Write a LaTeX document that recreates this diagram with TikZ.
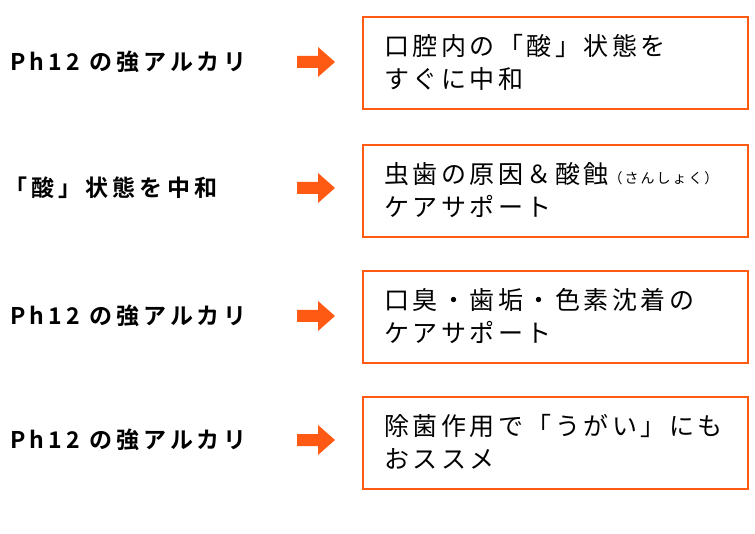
\documentclass[tikz,border=0pt]{standalone}
\usepackage{fontspec}
\setmainfont{Noto Sans CJK JP}
\newfontfamily\boldjp[LetterSpace=18]{Noto Sans CJK JP Bold}
\newfontfamily\wideJp[LetterSpace=14]{Noto Sans CJK JP}
\usepackage{tikz}
\usetikzlibrary{positioning}
\definecolor{accent}{HTML}{FF5A14}
\tikzset{
  lefttext/.style={anchor=west,inner sep=0pt,font=\boldjp\fontsize{23}{24}\selectfont},
  boxframe/.style={draw=accent,line width=1.6pt,fill=white},
  boxtext/.style={anchor=north west,inner sep=0pt,align=left,
    font=\wideJp\fontsize{25}{33}\selectfont}
}
\newcommand{\bigarrow}[1]{%
  \fill[accent] (297,#1-6) -- (318,#1-6) -- (318,#1-15) -- (335,#1)
    -- (318,#1+15) -- (318,#1+6) -- (297,#1+6) -- cycle;}

\begin{document}
\begin{tikzpicture}[x=1pt,y=-1pt]
  \useasboundingbox (0,0) rectangle (755,534);

  % Left labels
  \node[lefttext] (l1) at (10,62) {Ph12 の強アルカリ};
  \node[lefttext] (l2) at (4,188) {「酸」状態を中和};
  \node[lefttext] (l3) at (10,316) {Ph12 の強アルカリ};
  \node[lefttext] (l4) at (10,440) {Ph12 の強アルカリ};

  % Arrows
  \bigarrow{62}
  \bigarrow{188}
  \bigarrow{316}
  \bigarrow{440}

  % Boxes
  \draw[boxframe] (363,17) rectangle (748,109);
  \draw[boxframe] (363,145) rectangle (748,237);
  \draw[boxframe] (363,271) rectangle (748,363);
  \draw[boxframe] (363,397) rectangle (748,489);

  \node[boxtext] (b1) at (384,34) {口腔内の「酸」状態を\\すぐに中和};
  \node[boxtext] (b2) at (384,162) {虫歯の原因＆酸蝕{\fontsize{14}{14}\selectfont（さんしょく）}\\ケアサポート};
  \node[boxtext] (b3) at (384,288) {口臭・歯垢・色素沈着の\\ケアサポート};
  \node[boxtext] (b4) at (384,414) {除菌作用で「うがい」にも\\おススメ};
\end{tikzpicture}
\end{document}
